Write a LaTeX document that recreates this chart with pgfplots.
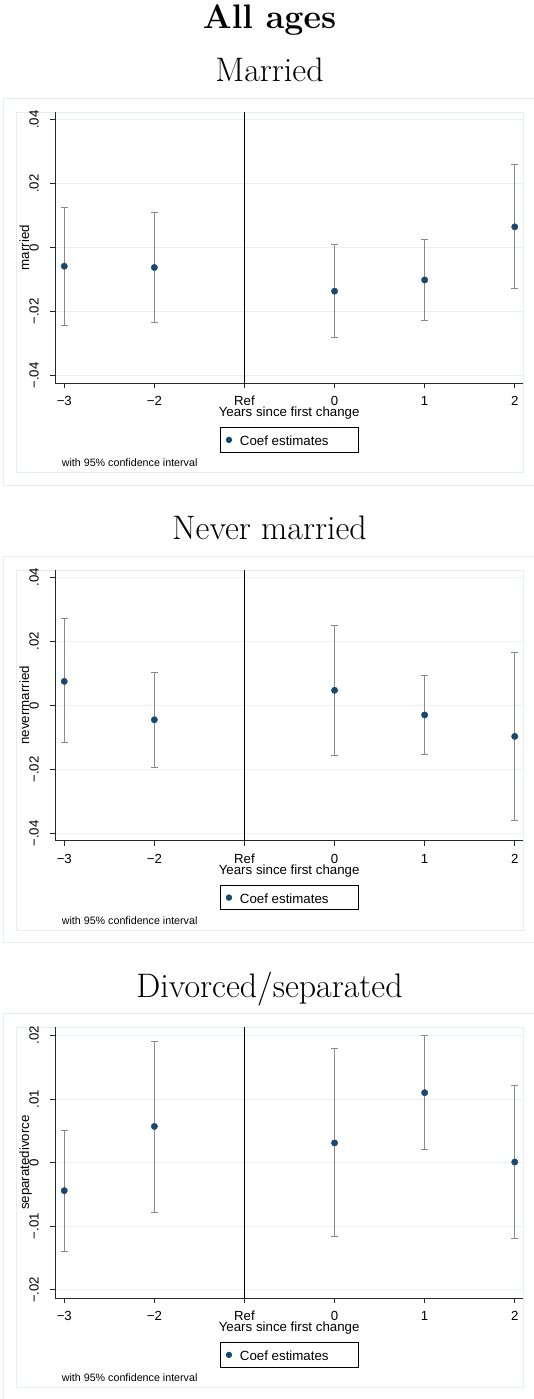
\documentclass[border=0pt]{standalone}
\usepackage{pgfplots}
\pgfplotsset{compat=1.18}
\usepackage{pgfplotstable}
\usepackage{fontspec}
\newfontfamily\arial{Liberation Sans}
\definecolor{navy}{RGB}{26,71,111}
\definecolor{errc}{RGB}{138,138,138}
\definecolor{gridc}{RGB}{232,240,241}
\definecolor{framec}{RGB}{230,238,239}
\definecolor{spinec}{RGB}{40,40,40}

% x: 0=-3, 1=-2, 2=Ref, 3=0, 4=1, 5=2 ; ep/em = distance to upper/lower CI bound
\pgfplotstableread{
x y ep em
0 -0.0058 0.0182 0.0184
1 -0.0062 0.0171 0.0171
3 -0.0136 0.0145 0.0144
4 -0.0101 0.0127 0.0127
5 0.0065 0.0194 0.0194
}\marriedtab
\pgfplotstableread{
x y ep em
0 0.0075 0.0195 0.0192
1 -0.0045 0.0149 0.0149
3 0.0047 0.0204 0.0203
4 -0.0030 0.0122 0.0123
5 -0.0097 0.0262 0.0263
}\nevertab
\pgfplotstableread{
x y ep em
0 -0.0044 0.0095 0.0095
1 0.0057 0.0134 0.0135
3 0.0031 0.0148 0.0147
4 0.0110 0.0090 0.0089
5 0.0001 0.0120 0.0120
}\septab

\pgfplotsset{
  panel/.style={
    scale only axis, width=468.3pt, height=270.7pt,
    xmin=-0.103, xmax=5.095,
    scaled y ticks=false,
    axis x line*=bottom, axis y line*=left,
    axis line style={spinec, line width=0.9pt},
    tick align=outside, major tick length=5pt,
    tick style={spinec, line width=0.8pt},
    xtick={0,1,2,3,4,5}, xticklabels={−3,−2,Ref,0,1,2},
    ymajorgrids, major grid style={gridc, line width=0.8pt},
    tick label style={font=\fontsize{13.2}{15}\arial, inner sep=0pt},
    xticklabel style={anchor=base, yshift=-17.3pt},
    yticklabel style={xshift=-11.5pt, rotate=90, anchor=base},
    every axis x label/.style={at={(axis description cs:0.5,-0.1245)}, anchor=base, inner sep=0pt},
    every axis y label/.style={at={(axis description cs:-0.0555,0.5)}, rotate=90, anchor=base, inner sep=0pt},
    label style={font=\fontsize{13.3}{15}\arial},
    xlabel={Years since first change},
    legend style={at={(axis description cs:0.5,-0.2102)}, anchor=center,
      draw=black, line width=0.8pt, font=\fontsize{13.3}{15}\arial,
      inner xsep=3pt, inner ysep=3pt,
      nodes={inner sep=2pt, text height=12.6pt, text depth=1.7pt}},
    legend image code/.code={\path[draw=none, fill=none] (0pt,0pt) rectangle (14.7pt,0.1pt); \fill[navy, draw=none] (5.7pt,0pt) circle (3.2pt);},
  },
  coefplot/.style={only marks, mark=*, mark size=3.2pt, mark options={navy, fill=navy},
    error bars/y dir=both, error bars/y explicit,
    error bars/error mark=-,
    error bars/error bar style={color=errc, line width=1.1pt},
    error bars/error mark options={color=errc, line width=1.0pt, mark size=3.5pt, rotate=90}},
}

\begin{document}
\begin{tikzpicture}
\useasboundingbox (0,0) rectangle (534pt,-1399pt);
\node[anchor=base, font=\fontsize{34}{40}\selectfont\bfseries] at (269.5pt,-29pt) {All ages};

% ---------- Panel 1 ----------
\node[anchor=base, font=\fontsize{34}{40}\selectfont] at (269.5pt,-82pt) {Married};
\draw[framec, line width=0.8pt] (3.3pt,-98.3pt) rectangle (540pt,-485pt);
\draw[framec, line width=0.8pt] (16.7pt,-112.3pt) rectangle (523.3pt,-472.3pt);
\begin{axis}[panel, at={(55pt,-383pt)}, anchor=south west,
  ymin=-0.0423, ymax=0.0423,
  ytick={-0.04,-0.02,0,0.02,0.04}, yticklabels={−.04,−.02,0,.02,.04},
  ylabel={married}]
\addplot[black, line width=0.9pt, forget plot] coordinates {(2,-0.0423) (2,0.0423)};
\addplot[coefplot] table[x=x, y=y, y error plus=ep, y error minus=em] {\marriedtab};
\addlegendentry{Coef estimates\rule{24.4pt}{0pt}}
\end{axis}
\node[anchor=base west, font=\fontsize{10.7}{12}\arial] at (58.3pt,-466.7pt) {with 95\% confidence interval};

% ---------- Panel 2 ----------
\node[anchor=base, font=\fontsize{34}{40}\selectfont] at (269.5pt,-539.7pt) {Never married};
\draw[framec, line width=0.8pt] (3.3pt,-556pt) rectangle (540pt,-942.7pt);
\draw[framec, line width=0.8pt] (16.7pt,-570pt) rectangle (523.3pt,-930pt);
\begin{axis}[panel, at={(55pt,-840.7pt)}, anchor=south west,
  ymin=-0.0423, ymax=0.0423,
  ytick={-0.04,-0.02,0,0.02,0.04}, yticklabels={−.04,−.02,0,.02,.04},
  ylabel={nevermarried}]
\addplot[black, line width=0.9pt, forget plot] coordinates {(2,-0.0423) (2,0.0423)};
\addplot[coefplot] table[x=x, y=y, y error plus=ep, y error minus=em] {\nevertab};
\addlegendentry{Coef estimates\rule{24.4pt}{0pt}}
\end{axis}
\node[anchor=base west, font=\fontsize{10.7}{12}\arial] at (58.3pt,-924.4pt) {with 95\% confidence interval};

% ---------- Panel 3 ----------
\node[anchor=base, font=\fontsize{34}{40}\selectfont] at (269.5pt,-997pt) {Divorced/separated};
\draw[framec, line width=0.8pt] (3.3pt,-1013.3pt) rectangle (540pt,-1400pt);
\draw[framec, line width=0.8pt] (16.7pt,-1027.3pt) rectangle (523.3pt,-1387.3pt);
\begin{axis}[panel, at={(55pt,-1298pt)}, anchor=south west,
  ymin=-0.02128, ymax=0.02128,
  ytick={-0.02,-0.01,0,0.01,0.02}, yticklabels={−.02,−.01,0,.01,.02},
  ylabel={separatedivorce}]
\addplot[black, line width=0.9pt, forget plot] coordinates {(2,-0.02128) (2,0.02128)};
\addplot[coefplot] table[x=x, y=y, y error plus=ep, y error minus=em] {\septab};
\addlegendentry{Coef estimates\rule{24.4pt}{0pt}}
\end{axis}
\node[anchor=base west, font=\fontsize{10.7}{12}\arial] at (58.3pt,-1381.7pt) {with 95\% confidence interval};
\end{tikzpicture}
\end{document}
